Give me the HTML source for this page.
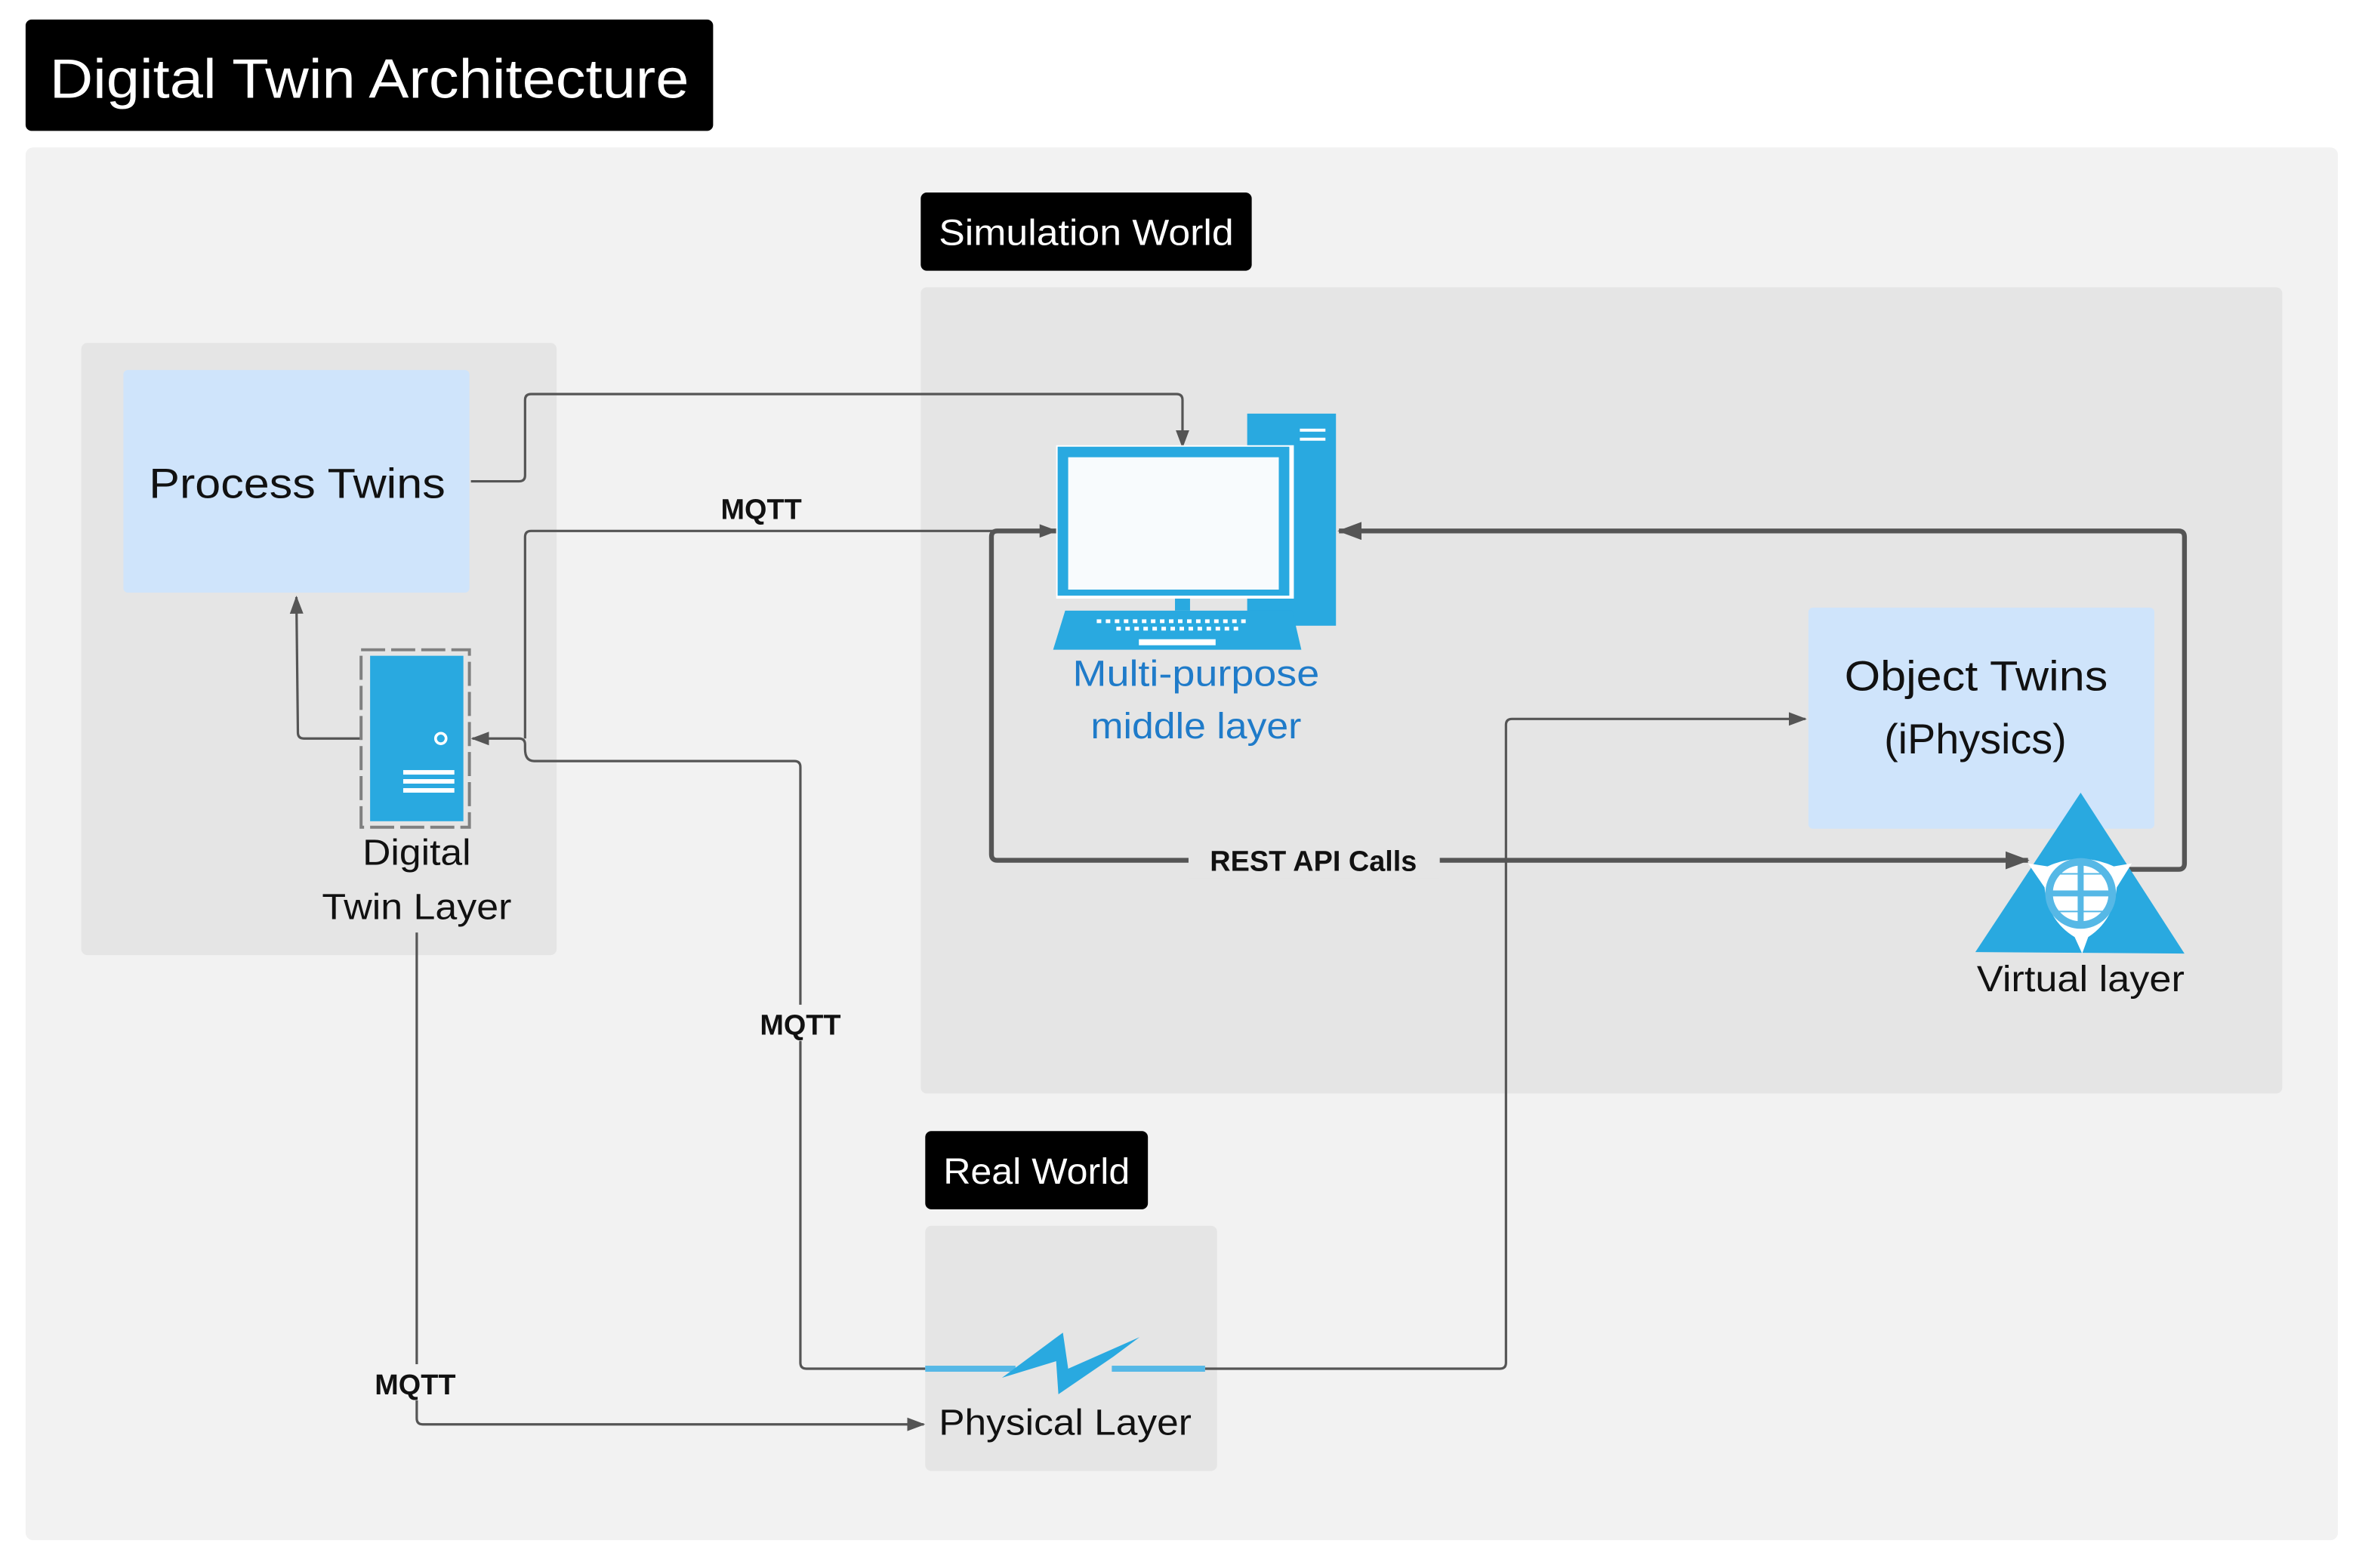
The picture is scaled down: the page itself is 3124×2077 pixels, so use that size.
<!DOCTYPE html>
<html><head><meta charset="utf-8"><style>
html,body{margin:0;padding:0;background:#fff;width:3124px;height:2077px;overflow:hidden}
svg{display:block}
text{font-family:"Liberation Sans",sans-serif}
</style></head><body>
<svg width="3124" height="2077" viewBox="0 0 1568 1042.5" xmlns="http://www.w3.org/2000/svg">
<defs>
<marker id="a" markerWidth="12" markerHeight="10" refX="11" refY="5" orient="auto" markerUnits="userSpaceOnUse"><path d="M0,0.5 L12,5 L0,9.5z" fill="#555"/></marker>
<marker id="b" markerWidth="16" markerHeight="12" refX="15" refY="6" orient="auto" markerUnits="userSpaceOnUse"><path d="M0,0 L16,6 L0,12z" fill="#555"/></marker>
</defs>
<rect width="1568" height="1042.5" fill="#fff"/>
<rect x="17" y="13" width="457" height="74" rx="4" fill="#000"/>
<text x="33" y="65" font-size="37" fill="#fff" textLength="425" lengthAdjust="spacingAndGlyphs">Digital Twin Architecture</text>
<rect x="17" y="98" width="1537" height="926" rx="5" fill="#f2f2f2"/>
<rect x="54" y="228" width="316" height="407" rx="4" fill="#e5e5e5"/>
<rect x="82" y="246" width="230" height="148" rx="3" fill="#cfe4fb"/>
<text x="99" y="331" font-size="28" fill="#111" textLength="197" lengthAdjust="spacingAndGlyphs">Process Twins</text>
<rect x="612" y="128" width="220" height="52" rx="4" fill="#000"/>
<text x="624" y="163" font-size="24" fill="#fff" textLength="196" lengthAdjust="spacingAndGlyphs">Simulation World</text>
<rect x="612" y="191" width="905" height="536" rx="4" fill="#e5e5e5"/>
<rect x="1202" y="404" width="230" height="147" rx="3" fill="#cfe4fb"/>
<text x="1226" y="459" font-size="28" fill="#111" textLength="175" lengthAdjust="spacingAndGlyphs">Object Twins</text>
<text x="1313" y="501" font-size="28" text-anchor="middle" fill="#111">(iPhysics)</text>
<rect x="615" y="752" width="148" height="52" rx="4" fill="#000"/>
<text x="627" y="787" font-size="24" fill="#fff" textLength="124" lengthAdjust="spacingAndGlyphs">Real World</text>
<rect x="615" y="815" width="194" height="163" rx="4" fill="#e5e5e5"/>

<g fill="none" stroke="#555" stroke-width="1.6">
<path d="M313,320 H345 Q349,320 349,316 V266 Q349,262 353,262 H782 Q786,262 786,266 V297" marker-end="url(#a)"/>
<path d="M349,491 V357 Q349,353 353,353 H702" marker-end="url(#a)"/>
<path d="M615,910 H536 Q532,910 532,906 V510 Q532,506 528,506 H355 Q349,506 349,498 V495 Q349,491 345,491 H314" marker-end="url(#a)"/>
<path d="M240,491 H202 Q198,491 198,487 L197,397" marker-end="url(#a)"/>
<path d="M277,620 V943 Q277,947 281,947 H614" marker-end="url(#a)"/>
<path d="M801,910 H997 Q1001,910 1001,906 V482 Q1001,478 1005,478 H1200" marker-end="url(#a)"/>
</g>
<g fill="none" stroke="#555" stroke-width="3.2">
<path d="M703,353 H663 Q659,353 659,357 V568 Q659,572 663,572 H1348" marker-end="url(#b)"/>
<path d="M1415,578 H1448 Q1452,578 1452,574 V357 Q1452,353 1448,353 H890" marker-end="url(#b)"/>
</g>
<rect x="790" y="560" width="167" height="24" fill="#e5e5e5"/>
<text x="873" y="579" font-size="19" font-weight="bold" text-anchor="middle" fill="#111">REST API Calls</text>
<text x="506" y="345" font-size="19" font-weight="bold" text-anchor="middle" fill="#111">MQTT</text>
<rect x="500" y="668" width="66" height="24" fill="#f2f2f2"/>
<text x="532" y="688" font-size="19" font-weight="bold" text-anchor="middle" fill="#111">MQTT</text>
<rect x="244" y="907" width="66" height="24" fill="#f2f2f2"/>
<text x="276" y="927" font-size="19" font-weight="bold" text-anchor="middle" fill="#111">MQTT</text>

<rect x="829" y="275" width="59" height="141" fill="#29a9e0"/>
<rect x="864" y="285" width="17" height="2" fill="#fff"/>
<rect x="864" y="291" width="17" height="2" fill="#fff"/>
<rect x="702" y="296" width="158" height="102" fill="#fff"/>
<rect x="703" y="297" width="154" height="99" fill="#29a9e0"/>
<rect x="710" y="304" width="140" height="88" fill="#f8fbfd"/>
<rect x="781" y="398" width="10" height="8" fill="#29a9e0"/>
<path d="M708,406 L859,406 L865,432 L700,432z" fill="#29a9e0"/>
<g stroke="#fff" stroke-width="2.5" stroke-dasharray="3,3">
<line x1="729" y1="413" x2="831" y2="413"/>
<line x1="742" y1="418" x2="823" y2="418"/>
</g>
<rect x="757" y="425" width="51" height="4" fill="#fff"/>
<text x="795" y="456" font-size="24" text-anchor="middle" fill="#1f7bc9" textLength="164" lengthAdjust="spacingAndGlyphs">Multi-purpose</text>
<text x="795" y="491" font-size="24" text-anchor="middle" fill="#1f7bc9" textLength="140" lengthAdjust="spacingAndGlyphs">middle layer</text>

<path d="M1383,527 L1452,634 L1313,633z" fill="#29a9e0"/>
<path d="M1361,576 Q1383,566 1405,576 L1417,574 L1407,590 Q1405,612 1388,623 L1384,634 L1379,623 Q1361,612 1359,590 L1348,574z" fill="#fff"/>
<circle cx="1383" cy="594" r="21" fill="#fff" stroke="#56b8e6" stroke-width="5"/>
<line x1="1383" y1="573" x2="1383" y2="615" stroke="#56b8e6" stroke-width="4"/>
<line x1="1362" y1="594" x2="1404" y2="594" stroke="#56b8e6" stroke-width="4"/>
<line x1="1366" y1="581" x2="1400" y2="581" stroke="#56b8e6" stroke-width="1"/>
<line x1="1366" y1="606" x2="1400" y2="606" stroke="#56b8e6" stroke-width="1"/>
<text x="1383" y="659" font-size="24" text-anchor="middle" fill="#111" textLength="138" lengthAdjust="spacingAndGlyphs">Virtual layer</text>

<rect x="240" y="432" width="72" height="118" fill="none" stroke="#808080" stroke-width="2" stroke-dasharray="16,4"/>
<rect x="246" y="436" width="62" height="110" fill="#29a9e0"/>
<circle cx="293" cy="491" r="3.5" fill="none" stroke="#fff" stroke-width="1.8"/>
<rect x="268" y="512" width="34" height="3" fill="#fff"/>
<rect x="268" y="518" width="34" height="3" fill="#fff"/>
<rect x="268" y="524" width="34" height="3" fill="#fff"/>
<text x="277" y="575" font-size="24" text-anchor="middle" fill="#111" textLength="72" lengthAdjust="spacingAndGlyphs">Digital</text>
<text x="277" y="611" font-size="24" text-anchor="middle" fill="#111" textLength="126" lengthAdjust="spacingAndGlyphs">Twin Layer</text>

<rect x="615" y="908" width="60" height="4" fill="#56b8e6"/>
<rect x="739" y="908" width="62" height="4" fill="#56b8e6"/>
<path d="M666,916 L706.5,886 L710,910 L757.5,889 L740,902 L703.5,927 L702,905z" fill="#29a9e0"/>
<text x="708" y="954" font-size="24" text-anchor="middle" fill="#111" textLength="168" lengthAdjust="spacingAndGlyphs">Physical Layer</text>
</svg>
</body></html>
